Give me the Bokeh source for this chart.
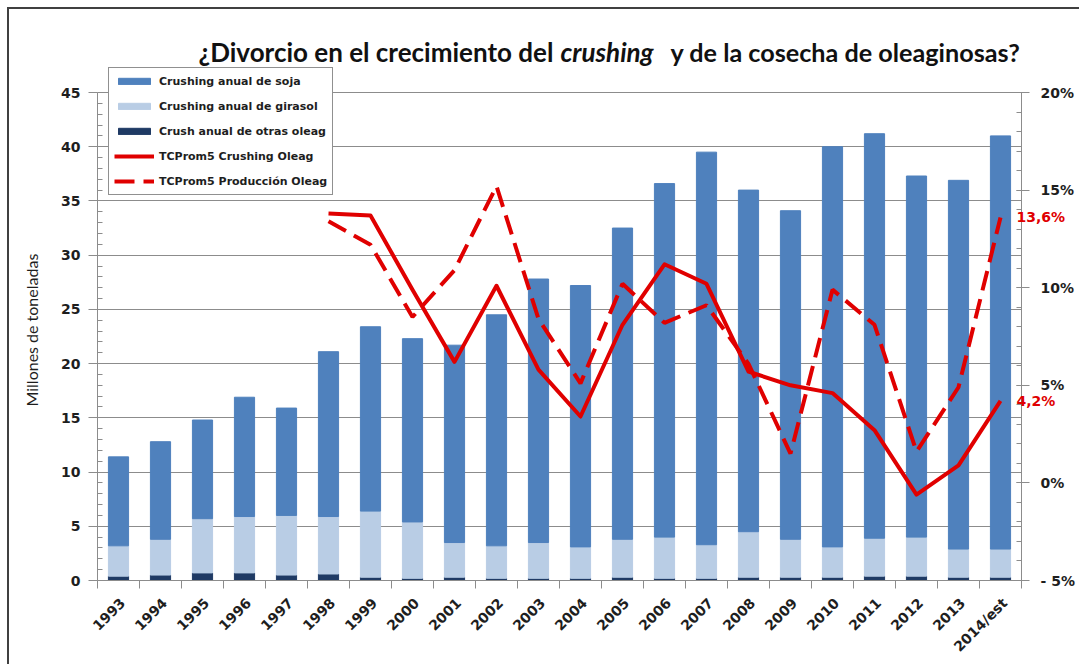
import math
from bokeh.plotting import figure
from bokeh.models import (Range1d, LinearAxis, FixedTicker, SingleIntervalTicker,
                          Legend, LegendItem, Label, ColumnDataSource, Title)
from bokeh.embed import file_html
from bokeh.resources import INLINE

# ---------------- data ----------------
years = ["1993", "1994", "1995", "1996", "1997", "1998", "1999", "2000", "2001",
         "2002", "2003", "2004", "2005", "2006", "2007", "2008", "2009", "2010",
         "2011", "2012", "2013", "2014/est"]
soja = [8.2, 9.0, 9.1, 11.0, 9.9, 15.2, 17.0, 16.9, 18.2, 21.3, 24.3, 24.1,
        28.7, 32.6, 36.2, 31.5, 30.3, 36.9, 37.3, 33.3, 34.0, 38.1]
girasol = [2.8, 3.3, 5.0, 5.2, 5.5, 5.3, 6.1, 5.2, 3.2, 3.0, 3.3, 2.9,
           3.5, 3.8, 3.1, 4.2, 3.5, 2.8, 3.5, 3.6, 2.6, 2.6]
otras = [0.4, 0.5, 0.7, 0.7, 0.5, 0.6, 0.3, 0.2, 0.3, 0.2, 0.2, 0.2,
         0.3, 0.2, 0.2, 0.3, 0.3, 0.3, 0.4, 0.4, 0.3, 0.3]

line_years = ["1998", "1999", "2000", "2001", "2002", "2003", "2004", "2005", "2006",
              "2007", "2008", "2009", "2010", "2011", "2012", "2013", "2014/est"]
tc_crushing = [13.8, 13.7, 9.9, 6.2, 10.1, 5.8, 3.4, 8.1, 11.2, 10.2, 5.7, 5.0,
               4.6, 2.7, -0.6, 0.9, 4.2]
tc_produccion = [13.4, 12.2, 8.5, 10.9, 15.2, 8.4, 5.1, 10.2, 8.2, 9.1, 6.1, 1.5,
                 9.9, 8.1, 1.6, 4.9, 13.6]

left_bounds = (0, 45)
pct_bounds = (-5, 20)
pct_ticks = [-5, 0, 5, 10, 15, 20]
pct_labels = ["- 5%", "0%", "5%", "10%", "15%", "20%"]

title_parts = ["¿Divorcio en el crecimiento del ", "crushing", "y de la cosecha de oleaginosas?"]
y_label = "Millones de toneladas"
legend_labels = ["Crushing anual de soja", "Crushing anual de girasol",
                 "Crush anual de otras oleag", "TCProm5 Crushing Oleag",
                 "TCProm5 Producción Oleag"]

# ---------------- styles / layout ----------------
C_SOJA = "#4F81BD"
C_GIR = "#B9CDE5"
C_OTR = "#1F3A64"
C_RED = "#E00000"
GRID = "#8C8C8C"
TXT = "#1E1E1E"
TICK_FONT = "DejaVu Sans"

W, H = 1079, 664
B_LEFT, B_RIGHT, B_TOP, B_BOTTOM = 97, 58, 0, 84
AXIS_PX = 488                                   # pixel height of the 0-45 axis span
FRAME_H = H - B_TOP - B_BOTTOM
y_top = left_bounds[1] * FRAME_H / AXIS_PX
pct_top = pct_bounds[0] + (pct_bounds[1] - pct_bounds[0]) * FRAME_H / AXIS_PX

xc = [i + 0.5 for i in range(len(years))]
src = ColumnDataSource(dict(x=xc, soja=soja, girasol=girasol, otras=otras))
lx = [years.index(y) + 0.5 for y in line_years]

p = figure(width=W, height=H, x_range=Range1d(0, len(years)), y_range=Range1d(0, y_top),
           output_backend="svg", toolbar_location=None, title=None,
           min_border_left=B_LEFT, min_border_right=B_RIGHT,
           min_border_top=B_TOP, min_border_bottom=B_BOTTOM,
           background_fill_color=None, border_fill_color=None,
           outline_line_color=None)
# outer frame lines (left and top) of the original chart box
p.styles = {"background": "linear-gradient(#404040,#404040) 7px 7px / 2px 100% no-repeat, "
                          "linear-gradient(#404040,#404040) 7px 7px / 100% 2px no-repeat, #ffffff"}
p.extra_y_ranges = {"pct": Range1d(pct_bounds[0], pct_top)}

# bars
rs = p.vbar_stack(["otras", "girasol", "soja"], x="x", width=0.48, source=src,
                  color=[C_OTR, C_GIR, C_SOJA])

# lines
r1 = p.line(lx, tc_crushing, y_range_name="pct", line_color=C_RED, line_width=4,
            line_join="round")
r2 = p.line(lx, tc_produccion, y_range_name="pct", line_color=C_RED, line_width=4,
            line_dash="20 9")

# left axis
yax = p.yaxis[0]
yax.bounds = left_bounds
yax.ticker = SingleIntervalTicker(interval=5, num_minor_ticks=5)
yax.major_label_text_font = TICK_FONT
yax.major_label_text_font_style = "bold"
yax.major_label_text_font_size = "14px"
yax.major_label_text_color = TXT
yax.major_label_standoff = 8
yax.axis_line_color = GRID
yax.major_tick_line_color = GRID
yax.minor_tick_line_color = GRID
yax.major_tick_out = 9
yax.major_tick_in = 0
yax.minor_tick_out = 0
yax.minor_tick_in = 5
p.ygrid.ticker = SingleIntervalTicker(interval=5)
p.ygrid.bounds = left_bounds
p.ygrid.grid_line_color = GRID
p.xgrid.grid_line_color = None

# y-axis title as a left-side Title so it is centred on the 0-45 span
p.add_layout(Title(text=y_label, align="left", offset=174, text_font="Lato",
                   text_font_style="normal", text_font_size="16px", text_color=TXT,
                   standoff=36), "left")

# right axis
rax = LinearAxis(y_range_name="pct", ticker=SingleIntervalTicker(interval=5, num_minor_ticks=5),
                 bounds=pct_bounds)
rax.major_label_overrides = {t: l for t, l in zip(pct_ticks, pct_labels)}
rax.major_label_text_font = TICK_FONT
rax.major_label_text_font_style = "bold"
rax.major_label_text_font_size = "14px"
rax.major_label_text_color = TXT
rax.major_label_standoff = 11
rax.axis_line_color = GRID
rax.major_tick_line_color = GRID
rax.minor_tick_line_color = GRID
rax.major_tick_out = 8
rax.major_tick_in = 5
rax.minor_tick_out = 0
rax.minor_tick_in = 5
p.add_layout(rax, "right")

# end-of-line value labels, drawn by an extra right axis pulled back next to the lines
end_vals = [tc_produccion[-1], tc_crushing[-1]]
eax = LinearAxis(y_range_name="pct", ticker=FixedTicker(ticks=end_vals, minor_ticks=[]))
eax.major_label_overrides = {v: (f"{v:.1f}%").replace(".", ",") for v in end_vals}
eax.major_label_text_font = TICK_FONT
eax.major_label_text_font_style = "bold"
eax.major_label_text_font_size = "14px"
eax.major_label_text_color = C_RED
eax.major_label_standoff = -61
eax.axis_line_color = None
eax.major_tick_line_color = None
eax.minor_tick_line_color = None
eax.major_tick_out = 0
eax.major_tick_in = 0
p.add_layout(eax, "right")

# x axis
xax = p.xaxis[0]
lab_ticks = [x + 0.1 for x in xc]
xax.ticker = FixedTicker(ticks=lab_ticks, minor_ticks=list(range(len(years) + 1)))
xax.major_label_overrides = {x: y for x, y in zip(lab_ticks, years)}
xax.major_label_orientation = math.pi / 4
xax.major_label_text_font = TICK_FONT
xax.major_label_text_font_style = "bold"
xax.major_label_text_font_size = "14px"
xax.major_label_text_color = TXT
xax.major_label_standoff = 12
xax.axis_line_color = GRID
xax.major_tick_line_color = None
xax.minor_tick_line_color = GRID
xax.minor_tick_out = 8
xax.minor_tick_in = 0

# legend
legend = Legend(items=[LegendItem(label=legend_labels[0], renderers=[rs[2]]),
                       LegendItem(label=legend_labels[1], renderers=[rs[1]]),
                       LegendItem(label=legend_labels[2], renderers=[rs[0]]),
                       LegendItem(label=legend_labels[3], renderers=[r1]),
                       LegendItem(label=legend_labels[4], renderers=[r2])],
                location=(11, 385), orientation="vertical",
                label_text_font=TICK_FONT, label_text_font_style="bold",
                label_text_font_size="11px", label_text_color=TXT,
                glyph_width=40, glyph_height=8, label_height=16, spacing=9,
                padding=5, margin=0, label_standoff=5,
                border_line_color="#222222", border_line_width=1,
                background_fill_color="white", background_fill_alpha=1)
p.add_layout(legend)

# title (mixed bold / bold-italic)
ty = 529
for tx, txt, style, fs in ((101, title_parts[0], "bold", "26px"),
                           (463, title_parts[1], "bold italic", "26px"),
                           (573, title_parts[2], "bold", "25.2px")):
    p.add_layout(Label(x=tx, y=ty, x_units="screen", y_units="screen", text=txt,
                       text_font="Lato", text_font_style=style, text_font_size=fs,
                       text_color="#111111", text_baseline="alphabetic"))

open("out.html", "w").write(file_html(p, INLINE))
